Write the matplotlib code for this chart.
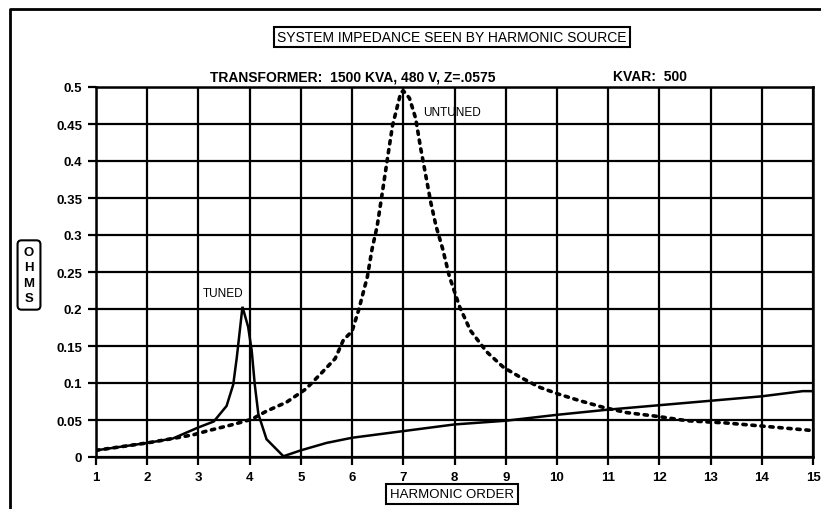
import matplotlib
matplotlib.use("Agg")
import matplotlib.pyplot as plt
from matplotlib.lines import Line2D

plt.rcParams['font.family'] = ['Liberation Sans', 'DejaVu Sans']

# harmonic order / impedance (ohms)
tuned_x = [1, 2, 2.5, 3, 3.3, 3.55, 3.68, 3.75, 3.86, 3.97, 4.04, 4.1, 4.17,
           4.33, 4.66, 5, 5.5, 6, 7, 8, 9, 10, 11, 12, 13, 14, 14.8, 15]
tuned_y = [0.009, 0.019, 0.025, 0.040, 0.048, 0.069, 0.098, 0.135, 0.203,
           0.176, 0.144, 0.098, 0.058, 0.024, 0.001, 0.009, 0.019, 0.026,
           0.035, 0.044, 0.049, 0.057, 0.064, 0.070, 0.076, 0.082, 0.089, 0.089]

untuned_x = [1, 2, 2.5, 2.9, 3.16, 3.68, 4.04, 4.33, 4.72, 5.1, 5.41, 5.67,
             5.83, 6.0, 6.13, 6.3, 6.39, 6.49, 6.59, 6.69, 6.79, 6.95, 7.0,
             7.12, 7.24, 7.34, 7.44, 7.54, 7.64, 7.77, 7.9, 8.1, 8.31, 8.63,
             8.96, 9.28, 9.67, 10.03, 10.45, 10.91, 11.36, 11.95, 12.54, 13.3,
             13.97, 14.95]
untuned_y = [0.009, 0.019, 0.025, 0.030, 0.035, 0.044, 0.051, 0.062, 0.074,
             0.092, 0.114, 0.133, 0.158, 0.170, 0.199, 0.244, 0.281, 0.312,
             0.357, 0.403, 0.448, 0.492, 0.495, 0.485, 0.458, 0.417, 0.380,
             0.343, 0.312, 0.281, 0.244, 0.203, 0.171, 0.142, 0.121, 0.108,
             0.094, 0.085, 0.076, 0.067, 0.060, 0.055, 0.049, 0.046, 0.042,
             0.036]

x_ticks = list(range(1, 16))
y_ticks = [0, 0.05, 0.1, 0.15, 0.2, 0.25, 0.3, 0.35, 0.4, 0.45, 0.5]
y_tick_labels = ['0', '0.05', '0.1', '0.15', '0.2', '0.25', '0.3', '0.35',
                 '0.4', '0.45', '0.5']

fig = plt.figure(figsize=(8.21, 5.10), dpi=100)
ax = fig.add_axes([96 / 821, 1 - 458 / 510, (813 - 96) / 821, (458 - 88) / 510])

ax.plot(tuned_x, tuned_y, color='black', lw=1.8, solid_joinstyle='miter')
ax.plot(untuned_x, untuned_y, color='black', lw=2.6,
        linestyle=(0, (0.9, 1.6)), dash_capstyle='round')

ax.set_xlim(1, 15)
ax.set_ylim(0, 0.5)
ax.set_xticks(x_ticks)
ax.set_xticklabels([str(t) for t in x_ticks])
ax.set_yticks(y_ticks)
ax.set_yticklabels(y_tick_labels)
ax.grid(True, color='black', lw=1.6)
ax.set_axisbelow(True)
for s in ax.spines.values():
    s.set_linewidth(1.8)
ax.tick_params(direction='out', length=6, width=1.6, labelsize=9.5, pad=4)
for lab in ax.get_xticklabels() + ax.get_yticklabels():
    lab.set_fontweight('bold')

ax.text(7.39, 0.466, 'UNTUNED', fontsize=8.5, va='center', ha='left')
ax.text(3.09, 0.221, 'TUNED', fontsize=8.5, va='center', ha='left')

box = dict(boxstyle='square,pad=0.25', fc='white', ec='black', lw=1.5)
fig.text(452 / 821, 1 - 38 / 510, 'SYSTEM IMPEDANCE SEEN BY HARMONIC SOURCE',
         fontsize=10, ha='center', va='center', bbox=box)
fig.text(210 / 821, 1 - 77 / 510, 'TRANSFORMER:  1500 KVA, 480 V, Z=.0575',
         fontsize=10, fontweight='bold', ha='left', va='center')
fig.text(613 / 821, 1 - 77 / 510, 'KVAR:  500',
         fontsize=10, fontweight='bold', ha='left', va='center')
fig.text(452 / 821, 1 - 495 / 510, 'HARMONIC ORDER', fontsize=9.5,
         ha='center', va='center',
         bbox=dict(boxstyle='square,pad=0.3', fc='white', ec='black', lw=1.5))
fig.text(29 / 821, 1 - 276 / 510, 'O\nH\nM\nS', fontsize=9.5, fontweight='bold',
         ha='center', va='center', linespacing=1.35,
         bbox=dict(boxstyle='round,pad=0.45,rounding_size=0.3',
                   fc='white', ec='black', lw=1.5))

# outer frame of the original page (left and top edges visible)
fx, fy = 10 / 821, 1 - 10 / 510
fig.add_artist(Line2D([fx, fx, 1.0], [0.0, fy, fy], color='black', lw=2,
                      transform=fig.transFigure))

fig.savefig('out.png', dpi=100)
plt.close(fig)
